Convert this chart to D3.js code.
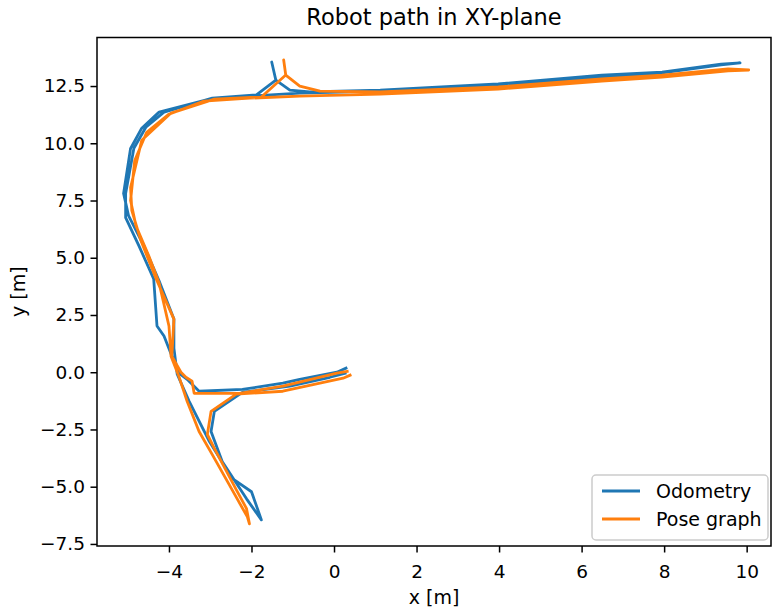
<!DOCTYPE html>
<html>
<head>
<meta charset="utf-8">
<script src="https://cdn.jsdelivr.net/npm/d3@7"></script>
<style>
  html, body { margin: 0; padding: 0; background: #fff; }
  svg text { font-family: "DejaVu Sans", sans-serif; fill: #000; }
</style>
</head>
<body>
<svg id="chart" width="772" height="609"></svg>
<script>
// Odometry estimate of the robot path (metres)
const odomX = [0.29, 0.07, -0.83, -1.24, -2.22, -3.27, -3.56, -3.76, -3.88, -4.12, -4.29, -4.37, -4.73, -5.05, -5.05, -4.85, -4.56, -4.12, -2.95, -1.88, -1.41, -1.51, -1.41, -1.07, -0.59, 1.12, 3.98, 6.49, 7.95, 9.38, 9.84,
  9.38, 7.95, 6.49, 3.98, 1.12, -0.83, -2.05, -3.02, -4.24, -4.66, -4.93, -5.10, -4.98, -4.61, -4.24, -3.88, -3.88, -3.80,
  -3.51, -3.02, -2.46, -2.00, -1.76, -2.12, -2.71, -2.98, -2.90, -2.22, -1.07, -0.10, 0.27];
const odomY = [0.18, 0.00, -0.31, -0.48, -0.75, -0.83, -0.31, -0.04, 0.48, 1.58, 2.02, 4.08, 5.53, 6.75, 7.81, 9.78, 10.70, 11.36, 11.97, 12.11, 12.76, 13.55, 12.76, 12.32, 12.24, 12.32, 12.59, 12.98, 13.11, 13.46, 13.51,
  13.42, 13.07, 12.89, 12.50, 12.28, 12.19, 12.06, 11.93, 11.36, 10.66, 9.78, 7.81, 6.84, 5.53, 3.99, 2.32, 1.05, -0.09,
  -1.27, -3.03, -4.65, -5.22, -6.45, -5.53, -3.90, -2.59, -1.71, -0.88, -0.61, -0.22, -0.04];

// Optimised pose-graph path (metres)
const poseX = [0.32, 0.07, -1.24, -2.29, -3.39, -3.44, -3.59, -3.71, -3.93, -3.88, -4.32, -4.68, -4.90, -4.93, -4.66, -3.95, -2.90, -1.76, -1.17, -1.22, -1.17, -0.83, -0.34, 1.12, 3.98, 6.49, 7.95, 9.55, 10.05,
  9.55, 7.95, 6.49, 3.98, 1.12, -0.83, -2.05, -3.15, -4.00, -4.54, -4.83, -4.93, -4.80, -4.49, -4.24, -4.00, -3.95, -3.76,
  -3.56, -3.27, -2.95, -2.54, -2.10, -2.05, -2.12, -2.37, -2.90, -3.07, -2.98, -2.37, -1.24, 0.22, 0.39];
const poseY = [0.04, -0.04, -0.61, -0.92, -0.92, -0.39, -0.22, 0.00, 0.70, 2.32, 4.12, 5.75, 7.06, 8.07, 10.13, 11.32, 11.93, 12.02, 12.98, 13.64, 12.98, 12.50, 12.28, 12.24, 12.46, 12.81, 12.98, 13.25, 13.20,
  13.16, 12.89, 12.72, 12.37, 12.15, 12.06, 11.97, 11.84, 11.27, 10.48, 9.25, 7.50, 6.40, 5.09, 3.90, 2.02, 0.70, -0.18,
  -1.27, -2.59, -3.60, -4.91, -6.32, -6.62, -5.96, -5.13, -3.33, -2.72, -1.71, -0.96, -0.83, -0.26, -0.13];

const xTicks = [-4, -2, 0, 2, 4, 6, 8, 10];
const yTicks = [-7.5, -5.0, -2.5, 0.0, 2.5, 5.0, 7.5, 10.0, 12.5];

const seriesNames = ["Odometry", "Pose graph"];
const seriesColors = ["#1f77b4", "#ff7f0e"];

const svg = d3.select("#chart");
const plot = { left: 97, right: 771, top: 37.5, bottom: 546 };

const x = d3.scaleLinear().domain([-5.744, 10.59]).range([plot.left, plot.right]);
const y = d3.scaleLinear().domain([-7.59, 14.62]).range([plot.bottom, plot.top]);

const fmtMinus = s => s.replace("-", "\u2212");
const tickFont = 18.5;

// axes
const xAxis = d3.axisBottom(x).tickValues(xTicks).tickSize(6.5).tickPadding(12)
  .tickFormat(d => fmtMinus(d3.format("d")(d)));
const yAxis = d3.axisLeft(y).tickValues(yTicks).tickSize(6.5).tickPadding(5.5)
  .tickFormat(d => fmtMinus(d3.format(".1f")(d)));

const gx = svg.append("g").attr("transform", `translate(0,${plot.bottom})`).call(xAxis);
const gy = svg.append("g").attr("transform", `translate(${plot.left},0)`).call(yAxis);
[gx, gy].forEach(g => {
  g.select(".domain").remove();
  g.selectAll(".tick line").attr("stroke", "#000").attr("stroke-width", 1.5);
  g.selectAll(".tick text").attr("font-size", tickFont).attr("font-family", "DejaVu Sans, sans-serif").attr("fill", "#000");
});

// series lines
const line = d3.line().x(d => x(d[0])).y(d => y(d[1]));
const odom = d3.zip(odomX, odomY);
const pose = d3.zip(poseX, poseY);

svg.append("defs").append("clipPath").attr("id", "clip")
  .append("rect").attr("x", plot.left).attr("y", plot.top)
  .attr("width", plot.right - plot.left).attr("height", plot.bottom - plot.top);

const lines = svg.append("g").attr("clip-path", "url(#clip)");
[odom, pose].forEach((pts, i) => {
  lines.append("path").datum(pts)
    .attr("d", line)
    .attr("fill", "none")
    .attr("stroke", seriesColors[i])
    .attr("stroke-width", 2.8)
    .attr("stroke-linejoin", "round")
    .attr("stroke-linecap", "square");
});

// frame
svg.append("rect")
  .attr("x", plot.left).attr("y", plot.top)
  .attr("width", plot.right - plot.left).attr("height", plot.bottom - plot.top)
  .attr("fill", "none").attr("stroke", "#000").attr("stroke-width", 1.5);

// title and axis labels
svg.append("text").attr("x", (plot.left + plot.right) / 2).attr("y", 25)
  .attr("text-anchor", "middle").attr("font-size", 22.5).text("Robot path in XY-plane");
svg.append("text").attr("x", (plot.left + plot.right) / 2).attr("y", 604)
  .attr("text-anchor", "middle").attr("font-size", 19).text("x [m]");
svg.append("text").attr("transform", `translate(25,${(plot.top + plot.bottom) / 2}) rotate(-90)`)
  .attr("text-anchor", "middle").attr("font-size", 19).text("y [m]");

// legend
const lg = svg.append("g").attr("transform", "translate(592,475)");
lg.append("rect").attr("x", 0).attr("y", 0).attr("width", 176).attr("height", 65)
  .attr("rx", 4).attr("fill", "#fff").attr("fill-opacity", 0.8)
  .attr("stroke", "#ccc").attr("stroke-width", 1.5);
seriesNames.forEach((name, i) => {
  const cy = 16 + i * 28;
  lg.append("line").attr("x1", 10).attr("x2", 48).attr("y1", cy).attr("y2", cy)
    .attr("stroke", seriesColors[i]).attr("stroke-width", 2.8);
  lg.append("text").attr("x", 64).attr("y", cy + 7).attr("font-size", 19).text(name);
});
</script>
</body>
</html>
